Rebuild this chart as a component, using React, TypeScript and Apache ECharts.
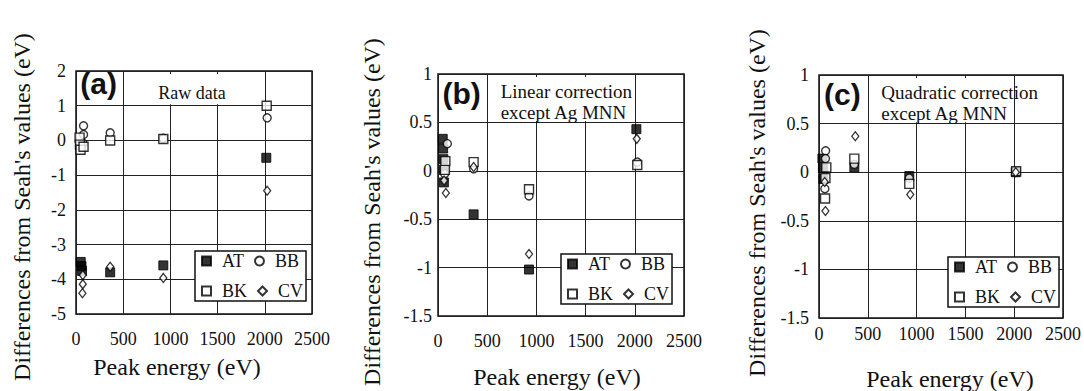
import React, { useEffect, useRef } from "react";
import * as echarts from "echarts";

// Peak-energy ticks shared by every panel (eV)
const X_TICKS = [0, 500, 1000, 1500, 2000, 2500];
const SERIES_NAMES = ["AT", "BB", "BK", "CV"];

// (a) Raw data: [peak energy (eV), difference from Seah's value (eV)]
const rawAT = [[50, -3.5], [58, -3.62], [64, -3.76], [362, -3.8], [925, -3.6], [2016, -0.5]];
const rawBB = [[80, 0.42], [80, 0.17], [75, -0.08], [362, 0.22], [925, 0.06], [2025, 0.65]];
const rawBK = [[38, 0.08], [42, -0.12], [48, -0.27], [80, -0.18], [362, 0.0], [925, 0.04], [2020, 1.0]];
const rawCV = [[72, -3.88], [72, -4.14], [68, -4.4], [362, -3.64], [925, -3.96], [2025, -1.45]];

// (b) Linear correction except Ag MNN
const linAT = [[48, 0.33], [52, 0.23], [55, 0.12], [58, 0.01], [60, -0.12], [362, -0.45], [925, -1.02], [2016, 0.43]];
const linBB = [[95, 0.28], [68, -0.03], [362, 0.02], [925, -0.26], [2025, 0.09]];
const linBK = [[75, 0.1], [70, 0.01], [362, 0.09], [925, -0.19], [2025, 0.06]];
const linCV = [[80, -0.23], [62, -0.1], [362, 0.04], [925, -0.86], [2020, 0.33]];

// (c) Quadratic correction except Ag MNN
const quadAT = [[35, 0.14], [40, 0.04], [45, -0.07], [362, 0.05], [925, -0.04], [2016, 0.0]];
const quadBB = [[68, 0.22], [66, 0.14], [60, -0.17], [362, 0.08], [925, -0.06], [2016, 0.0]];
const quadBK = [[75, 0.05], [66, -0.06], [62, -0.27], [362, 0.14], [925, -0.12], [2020, 0.01]];
const quadCV = [[66, -0.4], [58, -0.1], [372, 0.37], [935, -0.23], [2016, 0.0]];

const PANEL_DATA = [
  [rawAT, rawBB, rawBK, rawCV],
  [linAT, linBB, linBK, linCV],
  [quadAT, quadBB, quadBK, quadCV],
];
const PANEL_LETTERS = ["(a)", "(b)", "(c)"];
const PANEL_CAPTIONS = ["Raw data", "Linear correction\nexcept Ag MNN", "Quadratic correction\nexcept Ag MNN"];
const Y_RANGES = [
  { min: -5, max: 2, interval: 1 },
  { min: -1.5, max: 1, interval: 0.5 },
  { min: -1.5, max: 1, interval: 0.5 },
];

const SERIF = "'Liberation Serif', 'Times New Roman', serif";
const SANS = "'Liberation Sans', Arial, sans-serif";
const INK = "#111";

// Layout of the three plot areas
const GRIDS = [
  { left: 76, top: 71, width: 236, height: 243 },
  { left: 438, top: 74, width: 246, height: 242 },
  { left: 819, top: 75, width: 246, height: 243 },
];
const Y_LABEL_MARGIN = [10, 6, 10];
const X_LABEL_MARGIN = [16, 16, 7];
const LEGEND_POS = [
  { left: 195, top: 251 },
  { left: 561, top: 254 },
  { left: 948, top: 257 },
];
const Y_TITLE_POS = [
  { x: 22, y: 207 },
  { x: 372, y: 212 },
  { x: 757, y: 203 },
];
const X_TITLE_POS = [
  { x: 177, y: 367 },
  { x: 557, y: 377 },
  { x: 950, y: 379 },
];

const MARKERS: Record<string, any> = {
  AT: { symbol: "rect", symbolSize: 9, itemStyle: { color: "#000", borderColor: "#000", borderWidth: 1 } },
  BB: { symbol: "circle", symbolSize: 8, itemStyle: { color: "#fff", borderColor: "#000", borderWidth: 1.4 } },
  BK: { symbol: "rect", symbolSize: 9, itemStyle: { color: "#fff", borderColor: "#000", borderWidth: 1.4 } },
  CV: { symbol: "diamond", symbolSize: [7, 9], itemStyle: { color: "#fff", borderColor: "#000", borderWidth: 1.3 } },
};

function buildOption() {
  const grid = GRIDS.map((g) => ({
    ...g,
    show: true,
    borderColor: INK,
    borderWidth: 1.5,
    backgroundColor: "transparent",
  }));

  const xAxis = GRIDS.map((_, i) => ({
    type: "value",
    gridIndex: i,
    min: X_TICKS[0],
    max: X_TICKS[X_TICKS.length - 1],
    interval: X_TICKS[1] - X_TICKS[0],
    axisLine: { show: false },
    axisTick: { show: false },
    splitLine: { show: true, lineStyle: { color: "#222", width: 1 } },
    axisLabel: {
      margin: X_LABEL_MARGIN[i],
      fontFamily: SERIF,
      fontSize: 18,
      color: INK,
      formatter: (v: number) => String(v),
    },
  }));

  const yAxis = Y_RANGES.map((r, i) => ({
    type: "value",
    gridIndex: i,
    min: r.min,
    max: r.max,
    interval: r.interval,
    axisLine: { show: false },
    axisTick: { show: false },
    splitLine: { show: true, lineStyle: { color: "#222", width: 1 } },
    axisLabel: {
      margin: Y_LABEL_MARGIN[i],
      fontFamily: SERIF,
      fontSize: 18,
      color: INK,
      formatter: (v: number) => String(v),
    },
  }));

  const series: any[] = [];
  PANEL_DATA.forEach((panel, p) => {
    const r = Y_RANGES[p];
    const bandLow = r.max - r.interval; // caption band sits in the top grid row
    const span = r.max - r.min;
    panel.forEach((data, s) => {
      const name = SERIES_NAMES[s];
      const item: any = {
        type: "scatter",
        name,
        xAxisIndex: p,
        yAxisIndex: p,
        data,
        ...MARKERS[name],
      };
      if (s === 0) {
        const multiLine = PANEL_CAPTIONS[p].includes("\n");
        item.markArea = {
          silent: true,
          data: [
            [
              {
                xAxis: 0,
                yAxis: bandLow,
                itemStyle: { color: "rgba(0,0,0,0)" },
                label: {
                  show: true,
                  position: "inside",
                  formatter: PANEL_LETTERS[p],
                  fontFamily: SANS,
                  fontWeight: "bold",
                  fontSize: 30,
                  color: INK,
                  offset: [-1, -5],
                },
              },
              { xAxis: 500, yAxis: r.max },
            ],
            [
              {
                xAxis: 515,
                yAxis: bandLow + span * 0.006,
                itemStyle: { color: "#fff" },
                label: multiLine
                  ? {
                      show: true,
                      position: "insideLeft",
                      distance: 12,
                      formatter: PANEL_CAPTIONS[p],
                      fontFamily: SERIF,
                      fontSize: 19,
                      lineHeight: 21,
                      color: INK,
                      align: "left",
                      offset: [0, 3],
                    }
                  : {
                      show: true,
                      position: "inside",
                      formatter: PANEL_CAPTIONS[p],
                      fontFamily: SERIF,
                      fontSize: 18,
                      color: INK,
                      offset: [-2, 4],
                    },
              },
              { xAxis: 1985, yAxis: r.max - span * 0.012 },
            ],
          ],
        };
      }
      series.push(item);
    });
  });

  const legend = LEGEND_POS.map((pos) => ({
    ...pos,
    orient: "horizontal",
    width: 104,
    data: SERIES_NAMES,
    selectedMode: false,
    itemWidth: 9,
    itemHeight: 9,
    itemGap: 10,
    padding: [0, 3, 0, 6],
    backgroundColor: "#fff",
    borderColor: INK,
    borderWidth: 1.5,
    borderRadius: 0,
    textStyle: {
      fontFamily: SERIF,
      fontSize: 18,
      lineHeight: 20,
      color: INK,
      padding: [0, 0, 0, 6],
    },
  }));

  const graphic: any[] = [];
  Y_TITLE_POS.forEach((pos) => {
    graphic.push({
      type: "text",
      x: pos.x,
      y: pos.y,
      rotation: Math.PI / 2,
      style: {
        text: "Differences from Seah's values (eV)",
        fontFamily: SERIF,
        fontSize: 24,
        fill: INK,
        align: "center",
        verticalAlign: "middle",
      },
    });
  });
  X_TITLE_POS.forEach((pos) => {
    graphic.push({
      type: "text",
      x: pos.x,
      y: pos.y,
      style: {
        text: "Peak energy (eV)",
        fontFamily: SERIF,
        fontSize: 24,
        fill: INK,
        align: "center",
        verticalAlign: "middle",
      },
    });
  });

  return {
    animation: false,
    backgroundColor: "#fff",
    grid,
    xAxis,
    yAxis,
    legend,
    series,
    graphic,
  };
}

export default function App() {
  const ref = useRef<HTMLDivElement>(null);

  useEffect(() => {
    if (!ref.current) return;
    const chart = echarts.init(ref.current, undefined, { renderer: "svg" });
    chart.setOption(buildOption() as any);
    return () => chart.dispose();
  }, []);

  return (
    <div
      ref={ref}
      style={{ position: "fixed", left: 0, top: 0, width: 1084, height: 391, background: "#fff" }}
    />
  );
}
